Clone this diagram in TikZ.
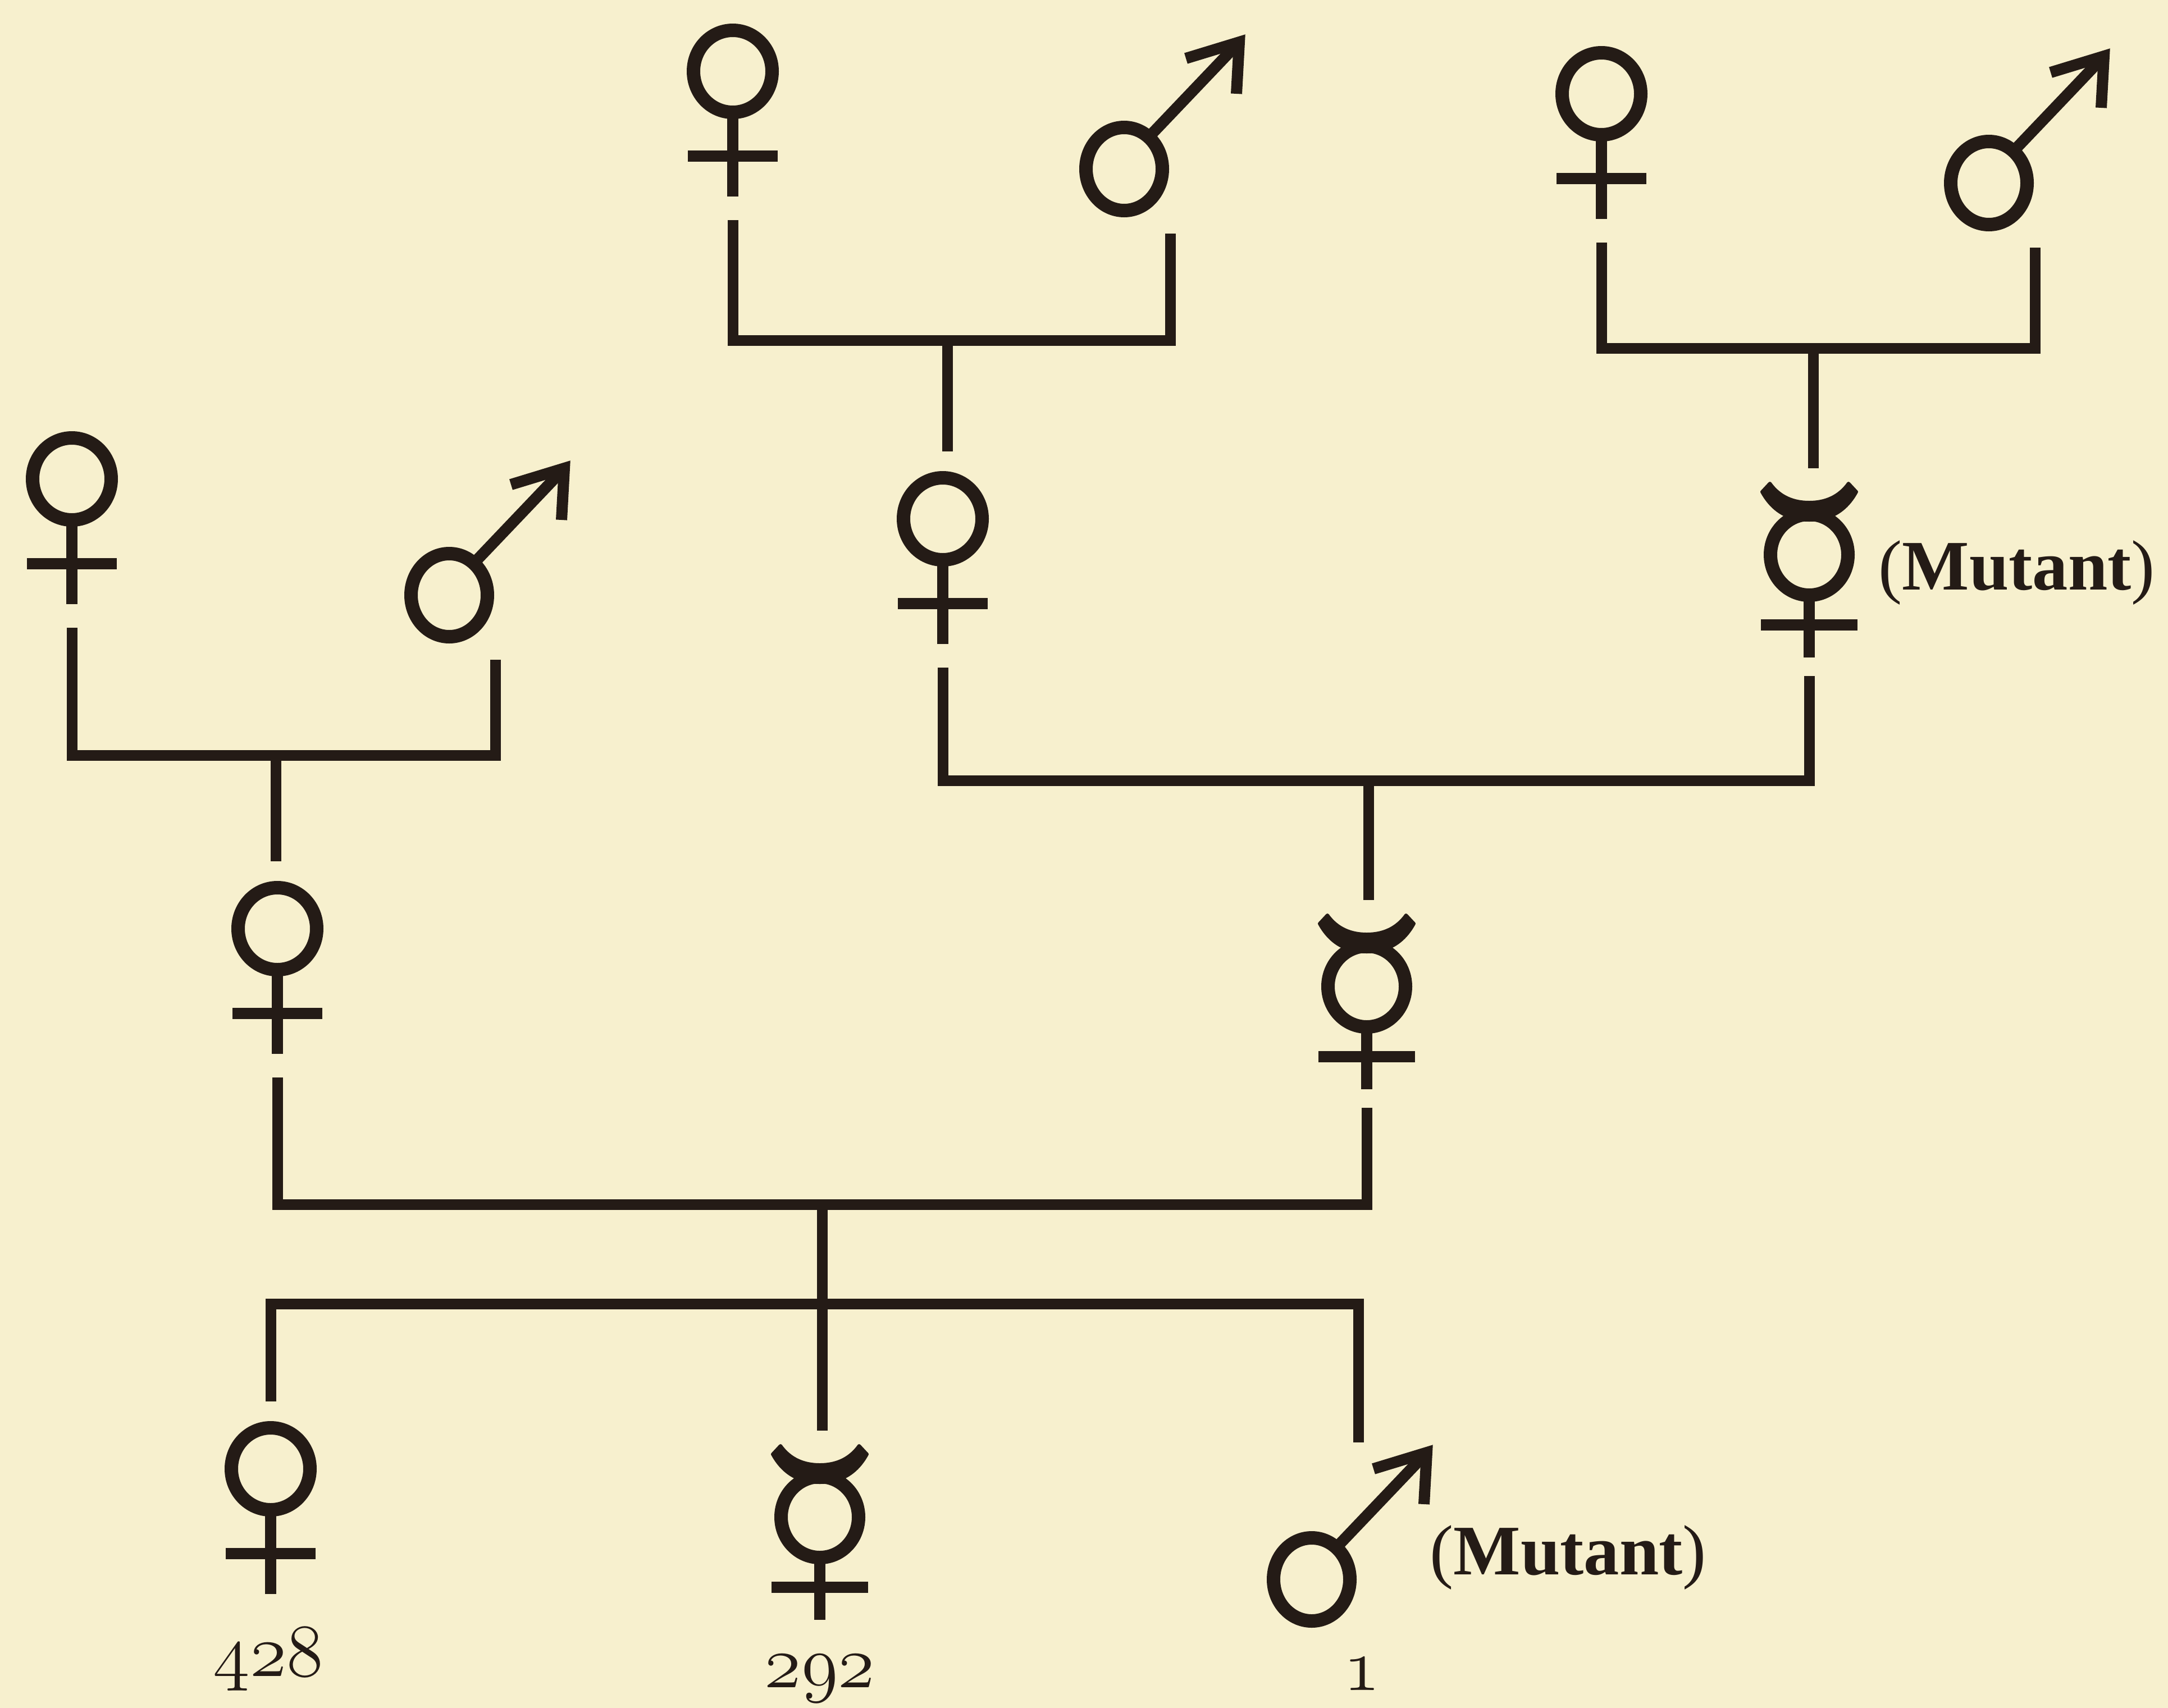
\documentclass[tikz,border=0pt]{standalone}
\usepackage{fix-cm}
\usepackage{fontspec}
\setmainfont{Liberation Serif}
\definecolor{paper}{RGB}{247,240,206}
\definecolor{ink}{RGB}{36,27,22}
\tikzset{
  symline/.style={draw=ink,line width=2.0mm},
  symring/.style={draw=ink,line width=2.4mm},
  female/.pic={
    \draw[symring] (0,0) ellipse (0.70 and 0.73);
    \draw[symline] (0,-0.73) -- (0,-2.23);
    \draw[symline] (-0.80,-1.51) -- (0.80,-1.51);
    \coordinate (-up) at (0,1.20);
    \coordinate (-dn) at (0,-2.65);
  },
  male/.pic={
    \draw[symring] (0,0) ellipse (0.68 and 0.74);
    \draw[symline] (50:0.68 and 0.74) -- (2.05,2.26);
    \draw[symline,line join=miter] (1.10,1.97) -- (2.05,2.26) -- (2.00,1.34);
    \coordinate (-up) at (0.83,2.44);
    \coordinate (-dn) at (0.82,-1.15);
  },
  worker/.pic={
    \draw[symring] (0,0) ellipse (0.69 and 0.72);
    \filldraw[ink,line width=0.6mm,line join=round]
      (-0.84,1.12) .. controls (-0.62,0.72) and (-0.30,0.62) .. (0,0.62)
      .. controls (0.30,0.62) and (0.62,0.72) .. (0.84,1.12)
      -- (0.70,1.27) .. controls (0.52,1.02) and (0.27,0.93) .. (0,0.93)
      .. controls (-0.27,0.93) and (-0.52,1.02) .. (-0.70,1.27) -- cycle;
    \draw[symline] (0,-0.72) -- (0,-1.83);
    \draw[symline] (-0.86,-1.25) -- (0.86,-1.25);
    \coordinate (-up) at (0,1.54);
    \coordinate (-dn) at (0,-2.16);
  }
}

\begin{document}
\begin{tikzpicture}
\tikzstyle{linkline}=[draw=ink,line width=1.9mm]
\tikzstyle{lbl}=[inner sep=0pt,text=ink,font=\fontsize{36}{40}\selectfont]
\tikzstyle{count}=[inner sep=0pt,text=ink,anchor=base,font=\fontsize{38}{40}\selectfont]
\fill[paper] (0,0) rectangle (38.61,-30.42);
\useasboundingbox (0,0) rectangle (38.61,-30.42);

% grandparents
\pic (fa) at (13.05,-1.27) {female};
\pic (ma) at (20.02,-3.01) {male};
\pic (fb) at (28.52,-1.67) {female};
\pic (mb) at (35.42,-3.26) {male};
\pic (fl) at (1.28,-8.53) {female};
\pic (ml) at (8.00,-10.60) {male};

% parents
\pic (fm) at (16.79,-9.24) {female};
\pic (wr) at (32.22,-9.88) {worker};
\pic (wm) at (24.34,-17.57) {worker};
\pic (flc) at (4.94,-16.54) {female};

% offspring
\pic (fbo) at (4.82,-26.16) {female};
\pic (wb) at (14.60,-27.02) {worker};
\pic (mbo) at (23.36,-28.13) {male};

\coordinate (barA) at (16.87,-6.06);
\coordinate (barB) at (32.29,-6.20);
\coordinate (barC) at (24.37,-13.90);
\coordinate (barD) at (4.91,-13.45);
\coordinate (barE) at (14.64,-21.45);
\coordinate (sibE) at (14.64,-23.22);

\draw[linkline] (fa-dn) |- (barA) -| (ma-dn);
\draw[linkline] (barA) -- (barA |- fm-up);
\draw[linkline] (fb-dn) |- (barB) -| (mb-dn);
\draw[linkline] (barB) -- (barB |- wr-up);
\draw[linkline] (fl-dn) |- (barD) -| (ml-dn);
\draw[linkline] (barD) -- (barD |- flc-up);
\draw[linkline] (fm-dn) |- (barC) -| (wr-dn);
\draw[linkline] (barC) -- (barC |- wm-up);
\draw[linkline] (flc-dn) |- (barE) -| (wm-dn);
\draw[linkline] (barE) -- (barE |- wb-up);
\draw[linkline] (fbo-up) |- (sibE) -| (mbo-up);

\node[lbl,anchor=base west] (muta) at (33.45,-10.50) {(\textbf{Mutant})};
\node[lbl,anchor=base west] (mutb) at (25.46,-28.04) {(\textbf{Mutant})};
\node[count] (n428) at (4.78,-29.85) {$\mathnormal{428}$};
\node[count] (n292) at (14.60,-30.05) {$\mathnormal{292}$};
\node[count] (n1) at (24.25,-30.10) {$\mathnormal{1}$};
\end{tikzpicture}
\end{document}
